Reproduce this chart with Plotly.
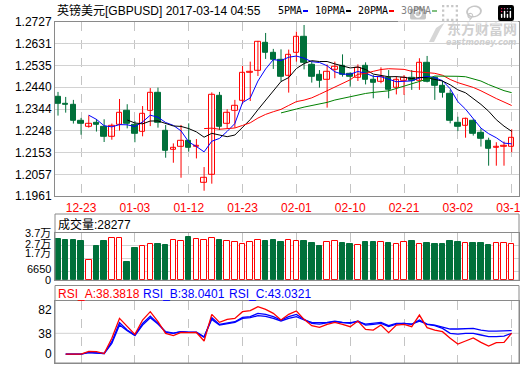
import plotly.graph_objects as go
import pandas as pd

# ---------------- data ----------------
opens = [1.2397, 1.2369, 1.2362, 1.2291, 1.2268, 1.2283, 1.2268, 1.2224, 1.2274, 1.2334,
         1.2274, 1.2246, 1.2335, 1.2417, 1.2250, 1.2165, 1.2176, 1.2204, 1.2179, 1.2018,
         1.2053, 1.2401, 1.2277, 1.2337, 1.2379, 1.2502, 1.2511, 1.2633, 1.2593, 1.2561,
         1.2488, 1.2589, 1.2659, 1.2536, 1.2496, 1.2474, 1.2517, 1.2533, 1.2499, 1.2482,
         1.2533, 1.2471, 1.2464, 1.2479, 1.2438, 1.2470, 1.2479, 1.2470, 1.2549, 1.2479,
         1.2447, 1.2410, 1.2283, 1.2272, 1.2294, 1.2240, 1.2205, 1.2173, 1.2177, 1.2176]
highs = [1.2419, 1.2397, 1.2384, 1.2305, 1.2316, 1.2300, 1.2299, 1.2280, 1.2388, 1.2365,
         1.2291, 1.2357, 1.2436, 1.2438, 1.2274, 1.2193, 1.2274, 1.2281, 1.2212, 1.2089,
         1.2417, 1.2419, 1.2343, 1.2384, 1.2533, 1.2552, 1.2643, 1.2678, 1.2608, 1.2606,
         1.2605, 1.2684, 1.2713, 1.2552, 1.2515, 1.2540, 1.2552, 1.2584, 1.2505, 1.2540,
         1.2549, 1.2493, 1.2527, 1.2515, 1.2489, 1.2493, 1.2515, 1.2567, 1.2577, 1.2486,
         1.2467, 1.2428, 1.2310, 1.2306, 1.2299, 1.2259, 1.2218, 1.2198, 1.2201, 1.2255]
lows = [1.2315, 1.2328, 1.2280, 1.2231, 1.2262, 1.2245, 1.2199, 1.2209, 1.2249, 1.2259,
        1.2198, 1.2224, 1.2269, 1.2262, 1.2130, 1.2108, 1.2042, 1.2157, 1.2127, 1.1985,
        1.2016, 1.2252, 1.2259, 1.2262, 1.2365, 1.2379, 1.2489, 1.2564, 1.2520, 1.2464,
        1.2416, 1.2552, 1.2518, 1.2460, 1.2438, 1.2350, 1.2479, 1.2486, 1.2442, 1.2467,
        1.2452, 1.2391, 1.2457, 1.2391, 1.2408, 1.2406, 1.2428, 1.2428, 1.2461, 1.2384,
        1.2394, 1.2281, 1.2247, 1.2218, 1.2227, 1.2179, 1.2095, 1.2095, 1.2095, 1.2154]
closes = [1.2367, 1.2363, 1.2293, 1.2280, 1.2281, 1.2275, 1.2223, 1.2269, 1.2329, 1.2277,
          1.2236, 1.2325, 1.2417, 1.2284, 1.2161, 1.2173, 1.2204, 1.2174, 1.2184, 1.2044,
          1.2406, 1.2266, 1.2328, 1.2357, 1.2505, 1.2507, 1.2637, 1.2593, 1.2562, 1.2485,
          1.2580, 1.2663, 1.2545, 1.2486, 1.2467, 1.2508, 1.2531, 1.2493, 1.2485, 1.2527,
          1.2471, 1.2460, 1.2486, 1.2428, 1.2474, 1.2480, 1.2469, 1.2549, 1.2464, 1.2447,
          1.2413, 1.2291, 1.2266, 1.2299, 1.2234, 1.2211, 1.2168, 1.2176, 1.2182, 1.2218]
volumes = [32300, 31500, 31500, 30700, 15700, 27000, 30700, 32800, 32800, 14400,
           25200, 26800, 28300, 28300, 27800, 31200, 30400, 33900, 32000, 31200,
           32800, 31500, 30400, 29600, 28300, 29600, 31200, 30700, 31500, 29900,
           31200, 30400, 30700, 29100, 26800, 29600, 30400, 29100, 28300, 27600,
           29900, 29900, 29600, 29100, 28100, 29600, 30700, 28100, 29100, 28300,
           28300, 30700, 29900, 28900, 29100, 29100, 27600, 28900, 28900, 28277]
rsi_a = [None, 0, 0, 0, 5, 4.5, 1, 28.8, 65.4, 50.2, 36.1, 62.4, 77.7, 59.3, 37.9,
         33.7, 39.8, 39.2, 39.5, 23.9, 72.8, 58.1, 63.6, 65.4, 77.7, 79.5, 86.8,
         81.9, 74.6, 62.4, 72.8, 78.9, 63.6, 52.0, 48.9, 54.4, 58.1, 54.4, 50.2,
         60.5, 45.3, 44.0, 53.2, 39.2, 53.2, 54.4, 50.2, 71.5, 48.3, 44.0, 41.0,
         28.8, 18.4, 23.9, 29.4, 21.4, 14.7, 20.8, 21.4, 38.3818]
rsi_b = [None, 0, 0, 0, 3, 2.5, 1, 22.7, 57.5, 44.1, 34.9, 56.3, 69.7, 56.3, 39.8,
         37.9, 41.0, 39.8, 39.8, 30.6, 66.7, 54.4, 57.5, 59.3, 67.3, 68.5, 74.6,
         72.8, 68.5, 62.4, 68.5, 72.8, 63.6, 56.3, 55.0, 57.5, 59.3, 57.5, 56.3,
         60.5, 53.2, 54.4, 56.3, 50.2, 55.0, 56.3, 54.4, 62.4, 54.4, 52.0, 47.1,
         37.9, 36.7, 37.9, 37.9, 34.9, 31.8, 31.8, 33.0, 38.0401]
rsi_c = [None, 0, 0, 0, 2.5, 2, 1, 19.6, 53.2, 42.8, 33.7, 53.2, 66.7, 55.0, 41.0,
         38.5, 41.0, 40.0, 40.0, 31.8, 63.6, 53.2, 56.3, 58.1, 65.4, 66.7, 70.3,
         69.1, 65.4, 60.6, 65.4, 68.5, 62.4, 58.1, 57.5, 58.1, 60.5, 58.1, 57.5,
         59.3, 55.0, 56.3, 58.1, 52.0, 56.3, 56.3, 55.0, 60.5, 55.0, 53.2, 50.2,
         45.9, 45.9, 47.1, 47.1, 44.0, 42.2, 42.2, 42.2, 43.0321]
date_pos = [3, 10, 17, 24, 31, 38, 45, 52, 59]
date_labels = ["12-23", "01-03", "01-12", "01-23", "02-01", "02-10", "02-21", "03-02", "03-13"]
price_ticks = [1.1961, 1.2057, 1.2153, 1.2248, 1.2344, 1.2440, 1.2535, 1.2631, 1.2727]
vol_ticks = [0, 6650, 17000, 27000, 37000]
vol_labels = ["0", "6650", "1.7万", "2.7万", "3.7万"]
rsi_ticks = [0, 38, 82]
ma_periods = [5, 10, 20, 30]
ma_names = ["5PMA", "10PMA", "20PMA", "30PMA"]
title_text = "英镑美元[GBPUSD] 2017-03-14 04:55"
vol_title = "成交量:28277"
rsi_titles = ["RSI_A:38.3818", "RSI_B:38.0401", "RSI_C:43.0321"]

# ---------------- styling ----------------
W, H = 520, 365
FONT = "Liberation Sans, Arial, Noto Sans CJK SC, sans-serif"
MONO = "DejaVu Sans Mono, monospace"
RED = "#ff0000"
GREEN = "#00703a"
BLUE = "#0000ff"
GRID = "#d2d2d2"
VGRID = "#c4c4c4"
BORDER = "#8a8a8a"
MA_COLORS = ["#0000ff", "#000000", "#ff0000", "#008000"]


def px(x):
    return x / W


def py(y):
    return 1 - y / H


n = len(closes)
idx = list(range(n))
up = [c >= o for o, c in zip(opens, closes)]
XR = [-0.39, 59.95]

fig = go.Figure()

# wicks
for is_up, col in [(True, RED), (False, GREEN)]:
    xs, ys = [], []
    for i in idx:
        if up[i] == is_up:
            xs += [i, i, None]
            ys += [lows[i], highs[i], None]
    fig.add_trace(go.Scatter(x=xs, y=ys, mode="lines", line=dict(color=col, width=1),
                             hoverinfo="skip", showlegend=False, xaxis="x", yaxis="y"))
# bodies
for is_up, col in [(True, RED), (False, GREEN)]:
    sel = [i for i in idx if up[i] == is_up]
    base = [min(opens[i], closes[i]) for i in sel]
    hgt = [max(abs(closes[i] - opens[i]), 0.00004) for i in sel]
    fig.add_trace(go.Bar(x=sel, y=hgt, base=base, width=0.72,
                         marker=dict(color="white" if is_up else GREEN, line=dict(color=col, width=1)),
                         hoverinfo="skip", showlegend=False, xaxis="x", yaxis="y"))
# moving averages
cs = pd.Series(closes)
for p, col in zip(ma_periods, MA_COLORS):
    ma = cs.rolling(p).mean()
    vals = [None if pd.isna(v) else float(v) for v in ma]
    fig.add_trace(go.Scatter(x=idx, y=vals, mode="lines", line=dict(color=col, width=1),
                             hoverinfo="skip", showlegend=False, xaxis="x", yaxis="y"))

# volume
for is_up, col in [(True, RED), (False, GREEN)]:
    sel = [i for i in idx if up[i] == is_up]
    fig.add_trace(go.Bar(x=sel, y=[volumes[i] for i in sel], width=0.72,
                         marker=dict(color="white" if is_up else GREEN, line=dict(color=col, width=1)),
                         hoverinfo="skip", showlegend=False, xaxis="x2", yaxis="y2"))

# RSI
for vals, col in [(rsi_c, BLUE), (rsi_b, BLUE), (rsi_a, RED)]:
    fig.add_trace(go.Scatter(x=idx, y=vals, mode="lines", line=dict(color=col, width=1.3),
                             hoverinfo="skip", showlegend=False, xaxis="x3", yaxis="y3"))

xcommon = dict(range=XR, domain=[px(55), px(519)], tickvals=date_pos, showgrid=True,
               griddash="dash", gridcolor=VGRID, gridwidth=1, zeroline=False,
               showline=True, mirror=True, linecolor=BORDER, linewidth=1, ticks="",
               fixedrange=True, automargin=False)
ycommon = dict(zeroline=False, showline=True, mirror=True, linecolor=BORDER, linewidth=1,
               ticks="", fixedrange=True, automargin=False,
               tickfont=dict(family=FONT, size=12, color="#000"))

fig.update_layout(
    width=W, height=H, margin=dict(l=0, r=0, t=0, b=0, autoexpand=False),
    paper_bgcolor="white", plot_bgcolor="white", barmode="overlay", bargap=0,
    showlegend=False, font=dict(family=FONT, size=12, color="#000"),
    xaxis=dict(xcommon, anchor="y", ticktext=date_labels, showticklabels=True,
               ticklabeloverflow="allow",
               tickfont=dict(family=FONT, size=12, color=RED)),
    yaxis=dict(ycommon, anchor="x", domain=[py(196.2), py(21.8)], range=[1.1961, 1.2727],
               tickvals=price_ticks, ticktext=["%.4f" % v for v in price_ticks],
               showgrid=True, gridcolor=GRID),
    xaxis2=dict(xcommon, anchor="y2", showticklabels=False),
    yaxis2=dict(ycommon, anchor="x2", domain=[py(280.3), py(233)], range=[0, 37000],
                tickvals=vol_ticks[1:], showticklabels=False, showgrid=True, gridcolor=GRID),
    xaxis3=dict(xcommon, anchor="y3", showticklabels=False),
    yaxis3=dict(ycommon, anchor="x3", domain=[py(363), py(301.3)], range=[-16.4, 96.7],
                tickvals=rsi_ticks, ticktext=[str(v) for v in rsi_ticks], showgrid=False),
)

shapes = []
annots = []
# panel frames
shapes.append(dict(type="rect", xref="paper", yref="paper", x0=px(55), x1=px(519),
                   y0=py(280.3), y1=py(214), line=dict(color=BORDER, width=1)))
shapes.append(dict(type="rect", xref="paper", yref="paper", x0=px(55), x1=px(519),
                   y0=py(363), y1=py(285.5), line=dict(color=BORDER, width=1)))
shapes.append(dict(type="line", xref="x3", yref="y3", x0=XR[0], x1=XR[1], y0=38, y1=38,
                   line=dict(color=GRID, width=1), layer="below"))

# volume tick labels
vol_label_y = [280.3, 268.7, 253.0, 243.5, 233.3]
for lab, yy in zip(vol_labels, vol_label_y):
    annots.append(dict(text=lab, xref="paper", yref="paper", x=px(53), y=py(yy),
                       xanchor="right", yanchor="middle", showarrow=False,
                       font=dict(family=FONT, size=11, color="#000")))

# titles
annots.append(dict(text=title_text, xref="paper", yref="paper", x=px(55), y=py(10),
                   xanchor="left", yanchor="middle", showarrow=False,
                   font=dict(family=FONT, size=12, color="#000")))
leg_x = [276, 313, 356, 399]
for name, col, lx in zip(ma_names, MA_COLORS, leg_x):
    annots.append(dict(text=name, xref="paper", yref="paper", x=px(lx), y=py(10),
                       xanchor="left", yanchor="middle", showarrow=False,
                       font=dict(family=MONO, size=10, color="#000")))
    tx = lx + 6 * len(name) + 3
    shapes.append(dict(type="rect", xref="paper", yref="paper", x0=px(tx), x1=px(tx + 5),
                       y0=py(12), y1=py(10), line=dict(width=0), fillcolor=col))
annots.append(dict(text=vol_title, xref="paper", yref="paper", x=px(56), y=py(224),
                   xanchor="left", yanchor="middle", showarrow=False,
                   font=dict(family=FONT, size=12, color="#000")))
for t, col, xx in zip(rsi_titles, [RED, BLUE, BLUE], [56, 141, 227]):
    annots.append(dict(text=t, xref="paper", yref="paper", x=px(xx), y=py(294),
                       xanchor="left", yanchor="middle", showarrow=False,
                       font=dict(family=FONT, size=12, color=col)))

# watermark
annots.append(dict(text="<b>东方财富网</b>", xref="paper", yref="paper", x=px(519), y=py(28),
                   xanchor="right", yanchor="middle", showarrow=False,
                   font=dict(family="Noto Sans CJK SC", size=14, color="#cfcfcf")))
annots.append(dict(text="<b><i>eastmoney.com</i></b>", xref="paper", yref="paper", x=px(518), y=py(43),
                   xanchor="right", yanchor="middle", showarrow=False,
                   font=dict(family="DejaVu Sans", size=8, color="#cfcfcf")))
logo = [(429, 42), (436, 28), (445, 22), (440, 30), (434, 42)]
path = "M " + " L ".join("%.4f,%.4f" % (px(a), py(b)) for a, b in logo) + " Z"
shapes.append(dict(type="path", xref="paper", yref="paper", path=path,
                   fillcolor="#d6d6d6", line=dict(width=0), layer="below"))

fig.update_layout(shapes=shapes, annotations=annots)
fig.write_html("out.html", post_script="document.body.style.margin='0';document.body.style.padding='0';")
